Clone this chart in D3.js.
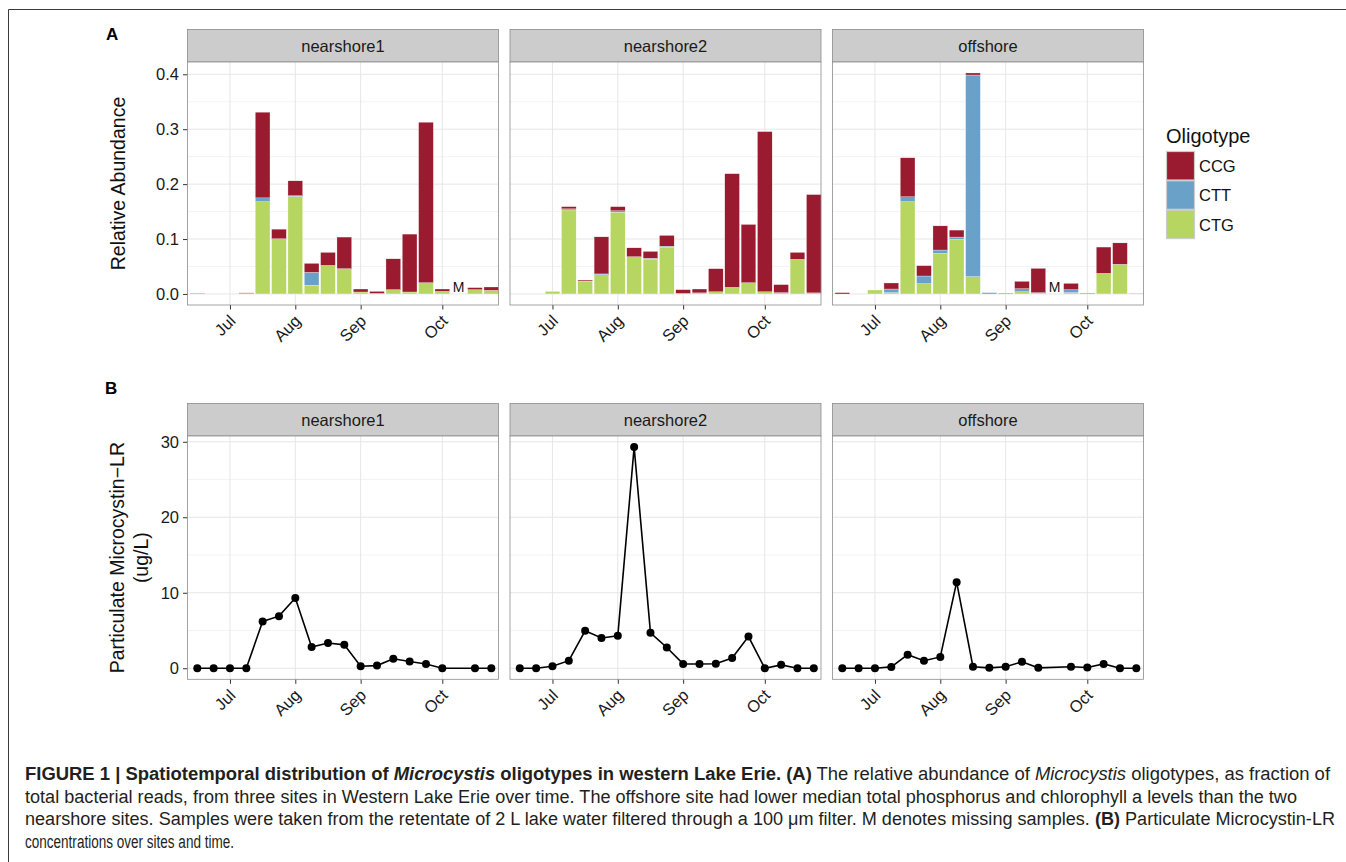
<!DOCTYPE html>
<html>
<head>
<meta charset="utf-8">
<script src="https://cdn.jsdelivr.net/npm/d3@7"></script>
<style>
  body { margin: 0; background: #fff; }
  svg { display: block; font-family: "Liberation Sans", Arial, sans-serif; }
</style>
</head>
<body>
<svg id="fig" width="1346" height="862"></svg>
<script>
// sampling weeks (index) and month tick labels
const weeks = d3.range(19);
const monthLabels = ["Jul", "Aug", "Sep", "Oct"];
const monthWeeks = [2, 6, 10, 15];

const sites = ["nearshore1", "nearshore2", "offshore"];
const oligotypes = ["CTG", "CTT", "CCG"]; // stacking order, bottom first
const legendOrder = ["CCG", "CTT", "CTG"];
const colors = { CCG: "#9a1b30", CTT: "#6aa1c8", CTG: "#b6d661" };

// relative abundance per site (null = missing sample)
const ctg_n1 = [0, 0, 0, 0.001, 0.168, 0.1005, 0.1775, 0.0157, 0.052, 0.046, 0.0036, 0.001, 0.0078, 0.0036, 0.0205, 0.0047, null, 0.0078, 0.0066];
const ctt_n1 = [0, 0, 0, 0, 0.007, 0, 0.0015, 0.0236, 0, 0, 0, 0, 0, 0, 0, 0, null, 0, 0];
const ccg_n1 = [0.0008, 0, 0, 0.001, 0.156, 0.0175, 0.027, 0.0164, 0.0237, 0.0576, 0.0054, 0.0037, 0.0562, 0.1054, 0.2922, 0.0043, null, 0.0037, 0.0061];

const ctg_n2 = [0, 0, 0.0047, 0.153, 0.0236, 0.035, 0.149, 0.0678, 0.0636, 0.0854, 0.001, 0.002, 0.004, 0.012, 0.0205, 0.004, 0.0024, 0.063, 0.002];
const ctt_n2 = [0, 0, 0, 0.002, 0, 0.0015, 0.0025, 0, 0.0014, 0.0016, 0, 0, 0, 0, 0, 0, 0, 0, 0];
const ccg_n2 = [0, 0, 0, 0.004, 0.0018, 0.0675, 0.0075, 0.0162, 0.0125, 0.0196, 0.0068, 0.007, 0.042, 0.207, 0.1061, 0.2917, 0.0146, 0.0127, 0.179];

const ctg_off = [0, 0, 0.0072, 0.0024, 0.168, 0.0187, 0.0738, 0.0993, 0.0315, 0, 0.0008, 0.004, 0.001, null, 0.0024, 0.0008, 0.0375, 0.054, 0];
const ctt_off = [0, 0, 0, 0.0066, 0.009, 0.014, 0.0062, 0.0043, 0.3672, 0.0024, 0, 0.0056, 0.0014, null, 0.0054, 0, 0, 0, 0];
const ccg_off = [0.0024, 0, 0, 0.011, 0.071, 0.0188, 0.044, 0.0127, 0.0037, 0, 0.0007, 0.0134, 0.0442, null, 0.0115, 0.0007, 0.0479, 0.039, 0.0005];

// particulate microcystin-LR (ug/L)
const mc_n1 = [0, 0, 0, 0, 6.2, 6.9, 9.3, 2.8, 3.35, 3.1, 0.27, 0.35, 1.25, 0.9, 0.57, 0, null, 0, 0];
const mc_n2 = [0, 0, 0.27, 1.0, 4.95, 4.0, 4.3, 29.3, 4.7, 2.75, 0.57, 0.57, 0.6, 1.35, 4.2, 0, 0.45, 0, 0];
const mc_off = [0, 0, 0, 0.18, 1.8, 1.0, 1.5, 11.4, 0.2, 0.05, 0.2, 0.85, 0.05, null, 0.2, 0.1, 0.57, 0, 0];

const abundance = {
  nearshore1: { CTG: ctg_n1, CTT: ctt_n1, CCG: ccg_n1 },
  nearshore2: { CTG: ctg_n2, CTT: ctt_n2, CCG: ccg_n2 },
  offshore: { CTG: ctg_off, CTT: ctt_off, CCG: ccg_off }
};
const microcystin = { nearshore1: mc_n1, nearshore2: mc_n2, offshore: mc_off };

const svg = d3.select("#fig");

// figure frame
svg.append("path").attr("d", "M8.5,862 V9.5 H1346").attr("fill", "none").attr("stroke", "#3a3a3a").attr("stroke-width", 1);

const panelLeft = [187.5, 510, 832.5];
const panelW = 311;
const stripH = 32.5;

const x = d3.scaleLinear().domain([-0.6, 18.44]).range([0, panelW]);

function drawPanel(site, k, top, bottom, y, yTicks, yMinor, yFmt) {
  const g = svg.append("g").attr("transform", `translate(${panelLeft[k]},0)`);
  // strip
  g.append("rect").attr("x", 0).attr("y", top - stripH).attr("width", panelW).attr("height", stripH)
    .attr("fill", "#cccccc").attr("stroke", "#8c8c8c").attr("stroke-width", 0.8);
  g.append("text").attr("x", panelW / 2).attr("y", top - stripH / 2).attr("dy", "0.36em")
    .attr("text-anchor", "middle").attr("font-size", 16.5).attr("fill", "#1a1a1a").text(site);
  // grid
  g.append("rect").attr("x", 0).attr("y", top).attr("width", panelW).attr("height", bottom - top).attr("fill", "#fff");
  g.selectAll(".minor").data(yMinor).join("line")
    .attr("x1", 0).attr("x2", panelW).attr("y1", d => y(d)).attr("y2", d => y(d))
    .attr("stroke", "#f3f3f3").attr("stroke-width", 1);
  g.selectAll(".majory").data(yTicks).join("line")
    .attr("x1", 0).attr("x2", panelW).attr("y1", d => y(d)).attr("y2", d => y(d))
    .attr("stroke", "#e6e6e6").attr("stroke-width", 1);
  g.selectAll(".majorx").data(monthWeeks).join("line")
    .attr("x1", d => x(d)).attr("x2", d => x(d)).attr("y1", top).attr("y2", bottom)
    .attr("stroke", "#e6e6e6").attr("stroke-width", 1);
  // axes
  if (k === 0) {
    const ay = g.append("g").call(d3.axisLeft(y).tickValues(yTicks).tickFormat(yFmt).tickSize(4.5).tickPadding(4));
    ay.select(".domain").remove();
    ay.selectAll("line").attr("stroke", "#333");
    ay.selectAll("text").attr("font-size", 16.5).attr("fill", "#1a1a1a").attr("font-family", "Liberation Sans, Arial, sans-serif");
  }
  const ax = g.append("g").attr("transform", `translate(0,${bottom})`)
    .call(d3.axisBottom(x).tickValues(monthWeeks).tickFormat((d, i) => monthLabels[i]).tickSize(4.5));
  ax.select(".domain").remove();
  ax.selectAll("line").attr("stroke", "#333");
  ax.selectAll("text").attr("font-size", 16.5).attr("fill", "#1a1a1a").attr("font-family", "Liberation Sans, Arial, sans-serif")
    .attr("text-anchor", "end").attr("y", 0).attr("dy", 0)
    .attr("transform", "translate(6,17) rotate(-45)");
  return g;
}

function drawBorder(g, top, bottom) {
  g.append("rect").attr("x", 0).attr("y", top).attr("width", panelW).attr("height", bottom - top)
    .attr("fill", "none").attr("stroke", "#8c8c8c").attr("stroke-width", 0.8);
}

// ---- Panel A: stacked bars
const topA = 62, botA = 305;
const yA = d3.scaleLinear().domain([-0.0201, 0.4224]).range([botA, topA]);
const stack = d3.stack().keys(oligotypes).value((d, key) => d[key] || 0);

sites.forEach((site, k) => {
  const g = drawPanel(site, k, topA, botA, yA, [0, 0.1, 0.2, 0.3, 0.4], [0.05, 0.15, 0.25, 0.35], d3.format(".1f"));
  const rows = weeks.map(w => ({ week: w, CTG: abundance[site].CTG[w], CTT: abundance[site].CTT[w], CCG: abundance[site].CCG[w] }))
    .filter(r => r.CTG !== null);
  const series = stack(rows);
  g.selectAll(".layer").data(series).join("g")
    .attr("fill", s => colors[s.key])
    .selectAll("rect").data(s => s).join("rect")
    .attr("x", d => x(d.data.week - 0.45))
    .attr("width", x(0.45) - x(-0.45))
    .attr("y", d => yA(d[1]))
    .attr("height", d => Math.max(0, yA(d[0]) - yA(d[1])))
    .attr("stroke", "#ffffff").attr("stroke-width", 0.35).attr("stroke-opacity", 0.8);
  // missing samples
  const missing = weeks.filter(w => abundance[site].CTG[w] === null);
  g.selectAll(".miss").data(missing).join("text")
    .attr("x", d => x(d)).attr("y", yA(0.003)).attr("text-anchor", "middle")
    .attr("font-size", 14).attr("fill", "#111").text("M");
  drawBorder(g, topA, botA);
});

svg.append("text").attr("x", 106).attr("y", 40).attr("font-size", 17).attr("font-weight", "bold").text("A");
svg.append("text").attr("transform", `translate(125,${(topA + botA) / 2}) rotate(-90)`)
  .attr("text-anchor", "middle").attr("font-size", 19.5).attr("fill", "#111").text("Relative Abundance");

// legend
const lg = svg.append("g").attr("transform", "translate(1166,0)");
lg.append("text").attr("x", 0).attr("y", 143).attr("font-size", 20).attr("fill", "#111").text("Oligotype");
legendOrder.forEach((o, i) => {
  lg.append("rect").attr("x", 0.5).attr("y", 151.5 + i * 29.3).attr("width", 28).attr("height", 28.5)
    .attr("fill", colors[o]).attr("stroke", "#cccccc").attr("stroke-width", 1.2);
  lg.append("text").attr("x", 33).attr("y", 166 + i * 29.3).attr("dy", "0.36em")
    .attr("font-size", 16.5).attr("fill", "#111").text(o);
});

// ---- Panel B: microcystin lines
const topB = 436, botB = 679.3;
const yB = d3.scaleLinear().domain([-1.465, 30.765]).range([botB, topB]);
sites.forEach((site, k) => {
  const g = drawPanel(site, k, topB, botB, yB, [0, 10, 20, 30], [5, 15, 25], d3.format("d"));
  const pts = weeks.map(w => ({ week: w, v: microcystin[site][w] })).filter(p => p.v !== null);
  g.append("path").datum(pts)
    .attr("d", d3.line().x(d => x(d.week)).y(d => yB(d.v)))
    .attr("fill", "none").attr("stroke", "#000").attr("stroke-width", 1.6);
  g.selectAll(".pt").data(pts).join("circle")
    .attr("cx", d => x(d.week)).attr("cy", d => yB(d.v)).attr("r", 4).attr("fill", "#000");
  drawBorder(g, topB, botB);
});

svg.append("text").attr("x", 105).attr("y", 393.5).attr("font-size", 17).attr("font-weight", "bold").text("B");
const ybt = svg.append("text").attr("transform", `translate(124,${(topB + botB) / 2}) rotate(-90)`)
  .attr("text-anchor", "middle").attr("font-size", 19.5).attr("fill", "#111");
ybt.append("tspan").attr("x", 0).attr("y", 0).text("Particulate Microcystin\u2212LR");
ybt.append("tspan").attr("x", 0).attr("y", 24).text("(ug/L)");

// ---- caption
const capLines = [
  { y: 780, len: 1305, parts: [
    ["FIGURE 1 | Spatiotemporal distribution of ", "bold", "normal"],
    ["Microcystis", "bold", "italic"],
    [" oligotypes in western Lake Erie. (A)", "bold", "normal"],
    [" The relative abundance of ", "normal", "normal"],
    ["Microcystis", "normal", "italic"],
    [" oligotypes, as fraction of", "normal", "normal"]] },
  { y: 802.5, len: 1272, parts: [
    ["total bacterial reads, from three sites in Western Lake Erie over time. The offshore site had lower median total phosphorus and chlorophyll a levels than the two", "normal", "normal"]] },
  { y: 825, len: 1310, parts: [
    ["nearshore sites. Samples were taken from the retentate of 2 L lake water filtered through a 100 \u03bcm filter. M denotes missing samples. ", "normal", "normal"],
    ["(B)", "bold", "normal"],
    [" Particulate Microcystin-LR", "normal", "normal"]] },
  { y: 847.5, len: 209, parts: [["concentrations over sites and time.", "normal", "normal"]] }
];
capLines.forEach(line => {
  const t = svg.append("text").attr("x", 25).attr("y", line.y)
    .attr("font-family", "'Liberation Sans Narrow', 'Liberation Sans', Arial, sans-serif")
    .attr("font-size", 18).attr("fill", "#231f20")
    .attr("textLength", line.len).attr("lengthAdjust", "spacingAndGlyphs");
  line.parts.forEach(p => {
    t.append("tspan").attr("font-weight", p[1]).attr("font-style", p[2]).text(p[0]);
  });
});
</script>
</body>
</html>
